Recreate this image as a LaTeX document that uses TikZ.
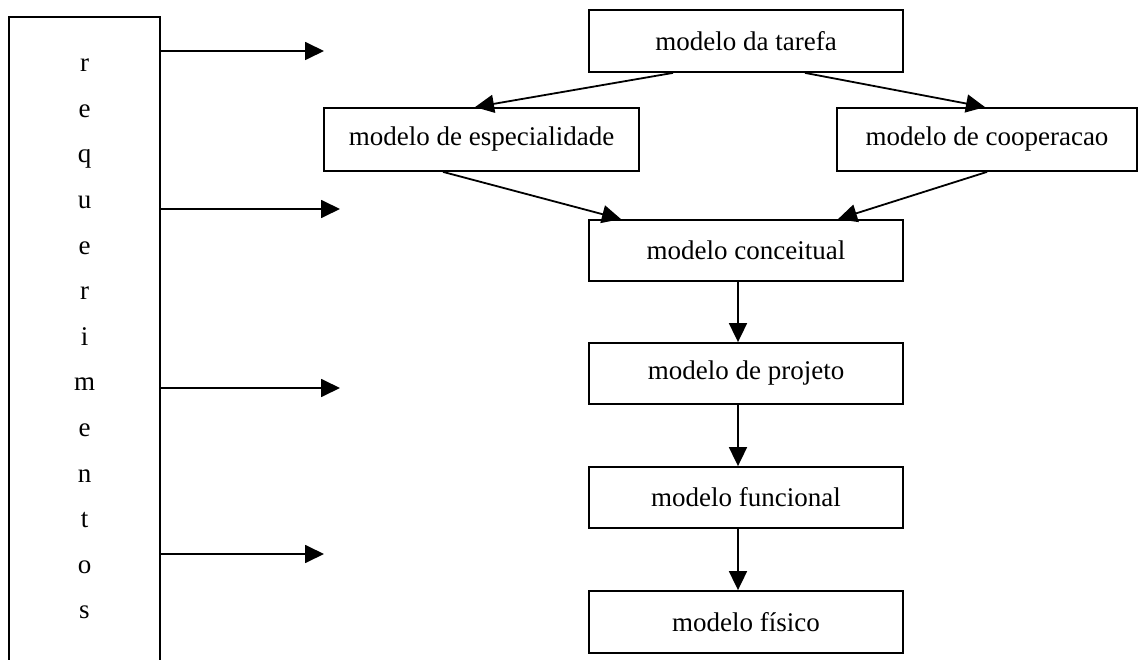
\documentclass[tikz,border=0pt]{standalone}
\usepackage{fontspec}
\setmainfont{Liberation Serif}
\usetikzlibrary{arrows.meta}
\begin{document}
\begin{tikzpicture}[x=1pt,y=-1pt,
  line width=1.8pt,
  model/.style={draw, minimum width=314pt, minimum height=62pt, inner sep=0pt,
    font=\fontsize{27}{32}\selectfont},
  arr/.style={-{Triangle[length=19pt,width=18pt]}},
]
\useasboundingbox (0,0) rectangle (1138,660);

% requirements column (open at the bottom)
\node[minimum width=149pt, minimum height=642pt, inner sep=0pt, align=center,
  font=\fontsize{27}{45.6}\selectfont] (req) at (84.5,339)
  {r\\e\\q\\u\\e\\r\\i\\m\\e\\n\\t\\o\\s};
\draw (req.south west) -- (req.north west) -- (req.north east) -- (req.south east);

% model boxes
\node[model] (tarefa) at (746,41) {modelo da tarefa};
\node[model, minimum width=315pt, minimum height=63pt] (esp) at (481.5,139.5) {modelo de especialidade};
\node[model, minimum width=300pt, minimum height=63pt] (coop) at (987,139.5) {modelo de cooperacao};
\node[model, minimum height=61pt] (conc) at (746,250.5) {modelo conceitual};
\node[model, minimum height=61pt] (proj) at (746,373.5) {modelo de projeto};
\node[model, minimum height=61pt] (func) at (746,497.5) {modelo funcional};
\node[model] (fis) at (746,622) {modelo físico};

% free ends of the requirement arrows
\coordinate (r1) at (324,51);
\coordinate (r2) at (340,209);
\coordinate (r3) at (340,388);
\coordinate (r4) at (324,554);
\foreach \c in {r1,r2,r3,r4}
  \draw[arr] (\c -| req.east) -- (\c);

% model flow
\draw[arr] ([xshift=-73pt]tarefa.south) -- ([xshift=-6.5pt]esp.north);
\draw[arr] ([xshift=59pt]tarefa.south) -- ([xshift=-2pt]coop.north);
\draw[arr] ([xshift=-38.5pt]esp.south) -- ([xshift=-125pt]conc.north);
\draw[arr] (coop.south) -- ([xshift=92pt]conc.north);
\draw[arr] ([xshift=-8pt]conc.south) -- ([xshift=-8pt]proj.north);
\draw[arr] ([xshift=-8pt]proj.south) -- ([xshift=-8pt]func.north);
\draw[arr] ([xshift=-8pt]func.south) -- ([xshift=-8pt]fis.north);
\end{tikzpicture}
\end{document}
